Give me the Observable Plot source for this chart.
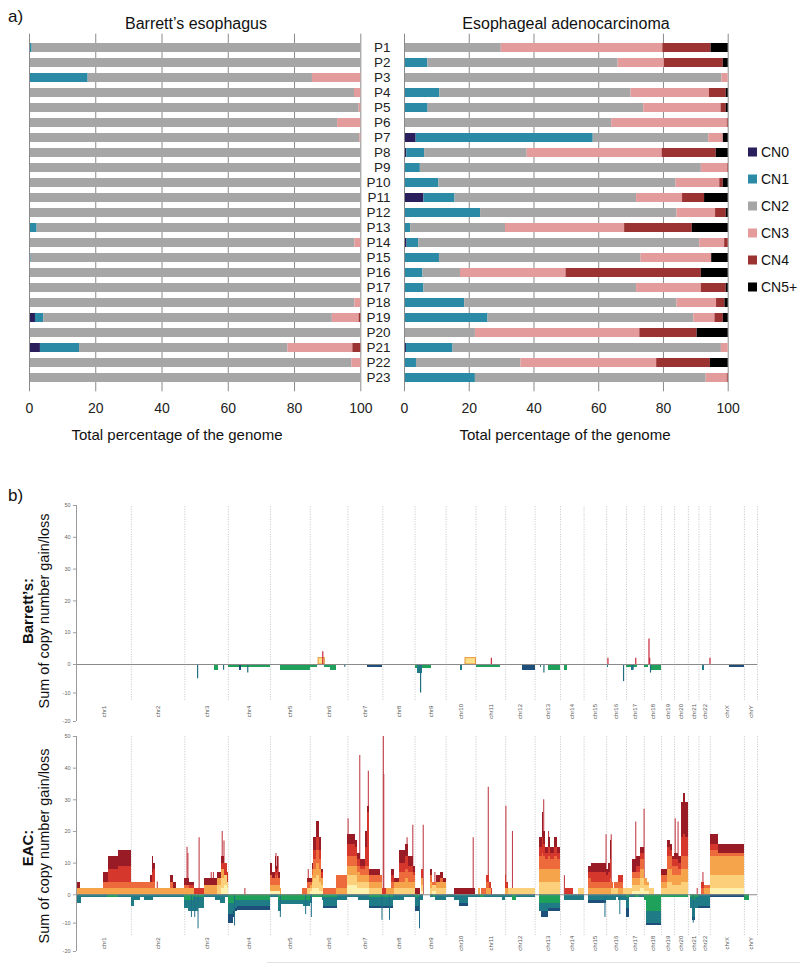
<!DOCTYPE html>
<html><head><meta charset="utf-8">
<script src="https://cdn.jsdelivr.net/npm/d3@7"></script>
<script src="https://cdn.jsdelivr.net/npm/@observablehq/plot@0.6"></script>
<style>
body{margin:0;background:#fff;font-family:"Liberation Sans",Arial,sans-serif}
#root{position:relative;width:800px;height:964px;overflow:hidden;background:#fff}
#root svg{position:absolute;left:0;top:0}
</style></head>
<body><div id="root"></div>
<script>
// ---------- Part a data ----------
const patients = d3.range(1, 24).map(i => "P" + i);
const cnLevels = ["CN0", "CN1", "CN2", "CN3", "CN4", "CN5+"];
const cnColors = ["#2a1f5c", "#2b8ba6", "#a6a6a6", "#e49b9b", "#9b3333", "#000000"];

const beCN0 = [0,0,0,0,0,0.2,0,0,0,0,0,0,0,0,0,0,0,0,1.8,0,3.3,0,0];
const beCN1 = [0.8,0,17.7,0,0,0,0,0,0,0,0,0,2.3,0,0.5,0,0,0,2.5,0,11.8,0,0];
const beCN2 = [99.2,100,67.7,98.1,99.5,92.8,99.7,100,100,100,100,100,97.7,98.2,99.5,100,100,98.2,87.1,100,62.9,97.3,100];
const beCN3 = [0,0,14.6,1.9,0.5,7,0.3,0,0,0,0,0,0,1.8,0,0,0,1.8,8.1,0,19.6,2.7,0];
const beCN4 = [0,0,0,0,0,0,0,0,0,0,0,0,0,0,0,0,0,0,0.5,0,2.4,0,0];
const beCN5 = [0,0,0,0,0,0,0,0,0,0,0,0,0,0,0,0,0,0,0,0,0,0,0];

const eaCN0 = [0,0,0,0.3,0,0,3.6,0.7,0,0,6.0,0,0,0.8,0,0,0,0,0,0,0.6,0,0.2];
const eaCN1 = [0,7.2,0,10.6,7.3,0.3,54.7,5.5,4.9,10.6,9.6,23.5,1.9,3.6,10.8,5.7,6.0,18.6,25.8,0,14.4,3.7,21.7];
const eaCN2 = [29.9,58.8,98.1,59.1,66.6,63.7,35.7,31.7,86.8,73.3,56.1,60.7,29.3,86.8,62.3,11.6,65.7,65.6,63.6,21.9,82.9,32.3,71.3];
const eaCN3 = [49.9,14.3,1.9,24.2,23.9,35.7,4.5,41.7,8.1,13.5,14.2,11.9,36.8,7.7,21.8,32.6,20.0,12.2,6.5,50.8,2.1,41.9,6.5];
const eaCN4 = [14.9,18.2,0,5.2,1.6,0.3,0,16.7,0.2,1.1,6.8,3.3,20.9,1.1,0,41.8,7.7,2.6,2.6,17.7,0,16.6,0.3];
const eaCN5 = [5.3,1.5,0,0.6,0.6,0,1.5,3.7,0,1.5,7.3,0.6,11.1,0,5.1,8.3,0.6,1.0,1.5,9.6,0,5.5,0];

// ---------- Part b data ----------
const chrNames = ["chr1","chr2","chr3","chr4","chr5","chr6","chr7","chr8","chr9","chr10","chr11","chr12","chr13","chr14","chr15","chr16","chr17","chr18","chr19","chr20","chr21","chr22","chrX","chrY"];
const chrLengths = [249.25,243.2,198.0,191.2,180.9,171.1,159.1,146.4,141.2,135.5,135.0,133.9,115.2,107.3,102.5,90.4,81.2,78.1,59.1,63.0,48.1,51.3,155.3,59.4];
const yTicks = [-20, -10, 0, 10, 20, 30, 40, 50];

const gainLayers = ["Y","L","O","R1","R2","D"];
const lossLayers = ["G","T","B"];

// EAC gains: [chr, startMb, endMb, Y, L, O, R1, R2, D]
const eacGains = [
 [1,0,18,0,0,2,0,0,2],[1,18,122,0,0,2,0,0,0],[1,122,145,0,0,2,2,0,3],[1,145,190,0,0,2,2,4,4],[1,190,249.25,0,0,2,2,5,5],
 [2,0,86,0,0,2,2,0,0],[2,86,96,0,0,2,2,0,2],[2,96,103,0,0,2,2,3,5],[2,103,110,0,0,2,2,4,2],[2,110,177,0,0,2,0,0,0],[2,177,193,0,0,2,2,0,2],[2,193,207,0,0,2,0,0,2],[2,207,243.2,0,0,2,0,0,0],
 [3,0,22,0,0,2,1,0,2],[3,22,45,0,0,2,0,1,1],[3,45,90,0,0,0,0,2,0],[3,90,148,0,0,3,0,0,2],[3,148,168,0,3,2,0,0,2],[3,168,179,2,3,3,0,2,2],[3,179,192,3,3,0,0,4,0],[3,192,198,2,2,0,0,3,0],
 [5,0,10,1,0,2,3,0,4],[5,10,22,1,0,2,2,0,2],[5,22,27,1,0,2,3,2,4],[5,27,32,1,0,2,2,2,2],[5,32,38,1,0,2,3,2,4],[5,38,45,1,0,2,2,0,2],[5,45,50,0,0,2,0,0,0],[5,145,168,0,0,0,2,0,0],[5,168,180.9,0,2,0,2,0,1],
 [6,0,9,1,1,1,1,0,1],[6,9,17,2,2,2,2,0,2],[6,17,29,2,3,3,3,3,4],[6,29,40,2,4,4,4,4,5],[6,40,52,1,3,4,3,3,4],[6,52,62,1,2,2,0,2,1],[6,62,120,0,0,0,2,0,0],[6,120,171.1,0,0,2,4,0,0],
 [7,0,35,3,3,3,3,4,3],[7,35,45,3,3,3,3,3,2],[7,45,57,2,2,3,2,2,2],[7,57,82,2,2,2,2,1,2],[7,82,88,2,2,2,3,6,5],[7,88,96,2,2,2,3,17,2],[7,96,146,0,2,2,2,0,2],[7,146,159.1,0,2,2,2,0,0],
 [8,0,15,0,0,0,0,2,0],[8,15,40,0,0,2,0,0,0],[8,40,53,0,0,2,2,2,2],[8,53,77,0,2,2,0,0,1],[8,77,103,0,2,2,3,3,4],[8,103,118,0,2,3,3,4,4],[8,118,140,0,2,2,3,2,3],[8,140,146.4,0,2,2,2,1,2],
 [9,0,24,0,0,0,0,0,2],[9,30,40,1,2,2,0,3,0],[9,69,81,0,2,2,2,0,2],[9,81,97,1,2,0,1,0,0],[9,97,115,0,2,2,0,0,2],[9,115,130,0,2,2,1,0,2],[9,130,141.2,0,2,2,0,0,1],
 [10,40,134,0,0,0,0,0,2],
 [11,12,20,0,0,2,0,0,0],[11,23,49,0,0,0,2,0,0],[11,49,61,0,0,2,2,2,0],[11,61,70,0,0,2,0,2,0],[11,70,76,0,0,0,0,2,0],
 [12,0,6,0,0,2,0,4,0],[12,6,14,0,0,2,0,2,0],[12,14,133.9,0,2,0,0,0,0],
 [13,18,33,0,4,4,4,3,3],[13,33,39,0,4,4,5,5,8],[13,39,48,0,4,4,4,4,4],[13,48,60,0,4,4,3,2,2],[13,60,70,0,4,4,4,3,3],[13,70,88,0,4,4,3,2,2],[13,88,103,0,4,4,4,3,3],[13,103,115.2,0,4,4,3,2,2],
 [14,25,58,0,0,0,0,2,0],[14,83,107.3,0,2,0,0,0,0],
 [15,20,35,0,0,2,3,2,2],[15,35,102.5,0,0,2,2,3,3],
 [16,0,10,0,0,2,2,2,2],[16,10,18,0,0,2,2,3,3],[16,18,24,0,0,2,3,6,6],[16,24,30,0,2,0,2,0,0],[16,30,35,0,2,0,0,0,0],[16,35,55,0,2,0,2,0,0],[16,55,75,0,0,2,2,2,0],[16,75,90.4,0,2,0,0,0,0],
 [17,0,27,0,2,0,0,0,0],[17,27,47,1,2,2,2,0,4],[17,47,65,1,2,2,2,2,3],[17,65,81.2,2,3,3,3,2,2],
 [18,0,12,1,2,2,0,0,0],[18,12,25,1,2,1,0,0,0],[18,25,45,0,2,0,0,0,0],
 [19,0,25,0,2,2,2,0,2],[19,25,42,0,4,4,4,3,2],[19,42,50,0,4,4,4,2,2],[19,50,59.1,0,3,3,3,2,1],
 [20,0,18,0,3,3,3,2,2],[20,18,30,0,3,3,2,2,2],[20,30,40,0,4,4,4,6,11],[20,40,48,0,4,4,4,7,13],[20,48,63,0,4,4,4,6,11],
 [22,10,25,0,0,0,2,2,0],[22,25,51.3,0,0,2,1,0,0],
 [23,0,37,2,4,6,2,2,3],[23,37,155.3,2,4,6,1,0,3]
];
// EAC losses: [chr, startMb, endMb, G, T, B] (depth below zero)
const eacLosses = [
 [1,0,25,0,3,0],[1,25,140,0,1,0],[1,140,190,1,0,0],[1,190,249.25,0,1,0],
 [2,0,14,0,4,0],[2,14,40,0,2,0],[2,40,60,0,1,0],[2,60,100,0,2,0],[2,100,243.2,0,1,0],
 [3,0,15,2,3,0],[3,15,40,2,4,0],[3,40,60,1,5,0],[3,60,88,1,4,0],[3,88,140,0,1,0],[3,140,160,0,2,0],[3,160,185,0,3,0],[3,185,198,0,1,0],
 [4,0,25,3,4,3],[4,25,32,3,3,2],[4,32,40,2,3,1],[4,40,191.2,2,2,1.5],
 [5,0,37,0,1,0],[5,37,52,2,4,0],[5,52,150,2,1.5,0],[5,150,180.9,2,2,0],
 [6,0,9,0,3,0],[6,9,55,1,0,0],[6,55,62,0,2,0],[6,62,124,1,3,1],[6,124,171.1,0,2,0],
 [7,0,50,0,1,0],[7,50,96,0,2,0],[7,96,159.1,1,3,1],
 [8,0,50,1,3,1],[8,50,100,0,2,0],[8,100,146.4,0,1,0],
 [9,0,24,1,3,2],[9,24,40,0,2,0],[9,69,85,0,1,0],[9,85,95,1,0,0],[9,95,141.2,0,2,0],
 [10,0,40,0,1,0],[10,40,60,0,2,0],[10,60,100,0,3,1],[10,100,135.5,0,1,0],
 [11,0,20,0,1,0],[11,20,40,1,0,0],[11,40,120,0,1,0],[11,120,135,0,2,0],
 [12,0,30,0,1,0],[12,30,50,2,0,0],[12,50,133.9,0,1,0],
 [13,18,30,3,3,0],[13,30,60,3,3,2],[13,60,115.2,3,2,1],
 [14,18,107.3,0,2,0],
 [15,20,102.5,0,2,1],
 [16,0,45,0,2,0],[16,45,55,0,1,0],[16,55,90.4,0,2,0],
 [17,0,15,1,4,3],[17,15,40,0,1,0],[17,40,60,1,0,0],[17,60,81.2,0,1,0],
 [18,0,10,2,0,0],[18,10,78.1,6,4,1],
 [19,0,59.1,1,0,0],
 [20,0,63,1,0,0],
 [21,8,20,1,4,0],[21,20,30,2,6,1],[21,30,48.1,1,4,0],
 [22,0,51.3,0,4,1],
 [23,0,155.3,0,0,1],
 [24,0,25,2,0,0]
];
// EAC narrow peaks: [chr, posMb, value]
const eacGainSpikes = [
 [2,118,4],[3,10,15],[3,14,13],[3,65,18],[3,120,7],[3,130,7],[3,170,20],[3,178,17],[4,75,2],
 [5,25,13],[5,35,12],[5,172,8],[7,1,24],[7,54,44],[7,93,39],[8,2,50],[8,4,38],[8,110,18],[8,136,22],
 [9,37,22],[9,90,7],[10,123,18],[11,56,34],[12,1,28],[12,31,20],[13,39,30],[13,61,20],[14,18,6],
 [15,100,19],[16,21,19],[17,42,23],[17,80,27],[20,3,24],[20,16,23],[21,40,2],[22,18,7]
];
const eacLossSpikes = [[3,30,8],[3,45,8],[3,60,12],[4,28,11],[5,45,8],[5,160,7],[6,5,8],[7,155,9],[8,30,9],[9,20,12],[15,95,8],[16,60,7],[21,22,10]];

// Barrett's: gains [chr, start, end, value], losses [chr, start, end, value, layer]
const beGains = [[6,38,66,2],[10,88,135.5,2]];
const beLosses = [
 [3,136,153,2,"G"],[4,0,191.2,1,"G"],[4,50,60,2,"B"],[5,46,180,2,"G"],[6,0,32,1,"G"],[6,66,92,1,"G"],[6,92,120,2,"G"],
 [7,88,159.1,1,"B"],[9,2,74,1.5,"G"],[9,12,32,3,"T"],[10,66,73,2,"T"],[11,3,112,1,"G"],[12,77,133.9,2,"B"],[13,25,27,1,"T"],
 [13,62,115.2,2,"G"],[14,19,31,2,"G"],[16,5,7,1,"T"],[17,1,49,1,"G"],[17,25,30,2,"T"],[18,2,21,1,"G"],[18,26,78.1,2,"G"],
 [22,16,23,2,"T"],[23,86,155.3,1,"B"]
];
const beGainSpikes = [[6,57,4],[11,70,2],[16,6,2],[17,42,2],[18,21,8],[18,24,2],[22,50,2]];
const beLossSpikes = [[3,58,5],[3,176,2],[4,88,3],[6,157,1],[9,25,10],[13,40,3],[16,77,6],[17,30,2],[18,28,3]];

// ---------- styles ----------
const FONT = "'Liberation Sans', Arial, sans-serif";
const gainColors = {Y:"#fdf1b0", L:"#fccf7a", O:"#f5a44b", R1:"#ec6a3b", R2:"#d6372c", D:"#981b25"};
const lossColors = {G:"#1fa15b", T:"#1f7c86", B:"#1d4f7a"};

const root = document.getElementById("root");

// ---------- Part a ----------
function barRows(cols) {
  const rows = [];
  patients.forEach((p, i) => cnLevels.forEach((cn, j) => rows.push({patient: p, cn, value: cols[j][i]})));
  return rows;
}
function barPlot(rows, left, right, showY) {
  return Plot.plot({
    width: 800, height: 450,
    marginLeft: left, marginRight: 800 - right, marginTop: 33.7, marginBottom: 58.7,
    style: {background: "transparent", fontFamily: FONT, color: "#222"},
    x: {domain: [0, 100]},
    y: {domain: patients, padding: 0.39, axis: showY ? undefined : null},
    color: {domain: cnLevels, range: cnColors},
    marks: [
      Plot.ruleX([20, 40, 60, 80, 100], {stroke: "#8a8a8a", strokeWidth: 1}),
      Plot.barX(rows, Plot.stackX({y: "patient", x: "value", fill: "cn"})),
      Plot.ruleX([0], {stroke: "#8a8a8a", strokeWidth: 1}),
      Plot.axisX({ticks: [0, 20, 40, 60, 80, 100], tickSize: 0, tickPadding: 11, fontSize: 14, label: null}),
      showY ? Plot.axisY({tickSize: 0, tickPadding: 14, fontSize: 13.5, label: null}) : null
    ]
  });
}
root.appendChild(barPlot(barRows([beCN0, beCN1, beCN2, beCN3, beCN4, beCN5]), 29, 360.3, false));
root.appendChild(barPlot(barRows([eaCN0, eaCN1, eaCN2, eaCN3, eaCN4, eaCN5]), 404, 727.7, true));

// ---------- Part b ----------
const chrStart = [0, ...d3.cumsum(chrLengths)];
const G = chrStart[chrStart.length - 1];
const chromos = chrNames.map((n, i) => ({name: n, start: chrStart[i], end: chrStart[i + 1], mid: (chrStart[i] + chrStart[i + 1]) / 2}));
const gpos = (c, mb) => chrStart[c - 1] + mb;

function stackGains(rows) {
  const out = [];
  for (const r of rows) {
    let acc = 0;
    gainLayers.forEach((l, k) => {
      const v = r[3 + k];
      if (v > 0) { out.push({x1: gpos(r[0], r[1]), x2: gpos(r[0], r[2]), y1: acc, y2: acc + v, fill: gainColors[l]}); acc += v; }
    });
  }
  return out;
}
function stackLosses(rows) {
  const out = [];
  for (const r of rows) {
    let acc = 0;
    lossLayers.forEach((l, k) => {
      const v = r[3 + k];
      if (v > 0) { out.push({x1: gpos(r[0], r[1]), x2: gpos(r[0], r[2]), y1: -acc, y2: -(acc + v), fill: lossColors[l]}); acc += v; }
    });
  }
  return out;
}

// the original figure's y axis has a slightly tighter spacing below zero than above
const NEG = 0.896;
const yT = v => (v < 0 ? v * NEG : v);

function genomePlot(yTop, yBottom, labelY, dotBottom, marksIn) {
  return Plot.plot({
    width: 800, height: 964, marginLeft: 76, marginRight: 43, marginTop: yTop, marginBottom: 964 - yBottom,
    style: {background: "transparent", fontFamily: FONT},
    x: {domain: [0, G], axis: null},
    y: {domain: [-20 * NEG, 50], transform: yT, axis: null},
    color: {type: "identity"},
    marks: [
      Plot.ruleX(chromos, {x: "end", y1: dotBottom, y2: 50, stroke: "#b5b5b5", strokeWidth: 0.8, strokeDasharray: "1,1.5"}),
      ...marksIn,
      Plot.ruleY([0], {x1: 0, x2: G, stroke: "#8a8a8a", strokeWidth: 1}),
      Plot.ruleX([0], {y1: -20, y2: 50, stroke: "#9a9a9a", strokeWidth: 1}),
      Plot.ruleY(yTicks, {y: d => d, x1: -14, x2: 0, stroke: "#888", strokeWidth: 0.8}),
      Plot.text(yTicks, {x: 0, y: d => d, text: d => String(d), dx: -6, textAnchor: "end", fontSize: 5.5, fill: "#666"}),
      Plot.text(chromos, {x: "mid", y: () => labelY, text: "name", rotate: -90, fontSize: 6, fill: "#555"})
    ]
  });
}

// Barrett's panel
const beGainRects = beGains.map(r => ({x1: gpos(r[0], r[1]), x2: gpos(r[0], r[2]), y1: 0, y2: r[3]}));
const beLossRects = beLosses.map(r => ({x1: gpos(r[0], r[1]), x2: gpos(r[0], r[2]), y1: 0, y2: -r[3], fill: lossColors[r[4]]}));
root.appendChild(genomePlot(505, 721, -16.5, -12.6, [
  Plot.rect(beLossRects, {x1: "x1", x2: "x2", y1: "y1", y2: "y2", fill: "fill", shapeRendering: "crispEdges"}),
  Plot.rect(beGainRects, {x1: "x1", x2: "x2", y1: "y1", y2: "y2", fill: "#fde28a", stroke: "#e8923a", strokeWidth: 1}),
  Plot.ruleX(beGainSpikes, {x: d => gpos(d[0], d[1]), y1: 0, y2: d => d[2], stroke: "#c8283a", strokeWidth: 1.2}),
  Plot.ruleX(beLossSpikes, {x: d => gpos(d[0], d[1]), y1: 0, y2: d => -d[2], stroke: "#1f6f7e", strokeWidth: 1.2})
]));

// EAC panel
root.appendChild(genomePlot(736, 951, -17.1, -14.3, [
  Plot.rect(stackLosses(eacLosses), {x1: "x1", x2: "x2", y1: "y1", y2: "y2", fill: "fill", shapeRendering: "crispEdges"}),
  Plot.ruleX(eacLossSpikes, {x: d => gpos(d[0], d[1]), y1: 0, y2: d => -d[2], stroke: "#1f6f86", strokeWidth: 1}),
  Plot.ruleX(eacGainSpikes, {x: d => gpos(d[0], d[1]), y1: 0, y2: d => d[2], stroke: "#c2414a", strokeWidth: 1.1}),
  Plot.rect(stackGains(eacGains), {x1: "x1", x2: "x2", y1: "y1", y2: "y2", fill: "fill", shapeRendering: "crispEdges"})
]));

// ---------- Titles, labels, legend ----------
const legendY = [152, 179, 206, 233, 260, 287];
let ov = `<svg width="800" height="964" xmlns="http://www.w3.org/2000/svg" style="font-family:${FONT}">`;
ov += `<text x="8" y="22" font-size="17" fill="#111">a)</text>`;
ov += `<text x="196" y="29" font-size="16" text-anchor="middle" fill="#111">Barrett’s esophagus</text>`;
ov += `<text x="566" y="29" font-size="16" text-anchor="middle" fill="#111">Esophageal adenocarcinoma</text>`;
ov += `<text x="177" y="440" font-size="15" text-anchor="middle" fill="#111">Total percentage of the genome</text>`;
ov += `<text x="565" y="440" font-size="15" text-anchor="middle" fill="#111">Total percentage of the genome</text>`;
cnLevels.forEach((cn, i) => {
  ov += `<rect x="748" y="${legendY[i] - 4.5}" width="9" height="9" fill="${cnColors[i]}"/>`;
  ov += `<text x="761" y="${legendY[i] + 5}" font-size="14" fill="#111">${cn}</text>`;
});
ov += `<text x="8" y="501" font-size="17" fill="#111">b)</text>`;
ov += `<text transform="translate(33,611) rotate(-90)" font-size="15" font-weight="bold" text-anchor="middle" fill="#111">Barrett’s:</text>`;
ov += `<text transform="translate(49,611) rotate(-90)" font-size="14.5" text-anchor="middle" fill="#111">Sum of copy number gain/loss</text>`;
ov += `<text transform="translate(33,848) rotate(-90)" font-size="15" font-weight="bold" text-anchor="middle" fill="#111">EAC:</text>`;
ov += `<text transform="translate(49,846) rotate(-90)" font-size="14.5" text-anchor="middle" fill="#111">Sum of copy number gain/loss</text>`;
ov += `<line x1="267" y1="962.5" x2="800" y2="962.5" stroke="#e2e2e2" stroke-width="1"/>`;
ov += `</svg>`;
root.insertAdjacentHTML("beforeend", ov);
</script>
</body></html>
